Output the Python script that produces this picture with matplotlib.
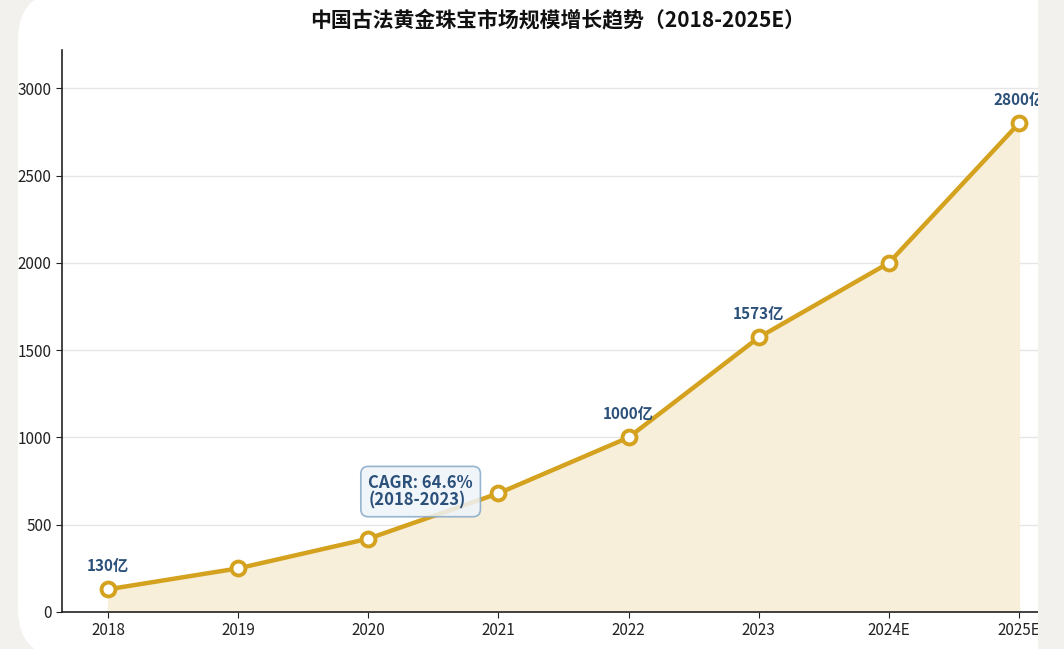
import matplotlib.pyplot as plt
from matplotlib.patches import FancyBboxPatch

years = ['2018', '2019', '2020', '2021', '2022', '2023', '2024E', '2025E']
market_size = [130, 250, 420, 680, 1000, 1573, 2000, 2800]
labeled_years = ['2018', '2022', '2023', '2025E']
y_ticks = [0, 500, 1000, 1500, 2000, 2500, 3000]

title = '中国古法黄金珠宝市场规模增长趋势（2018-2025E）'
cagr_text = 'CAGR: 64.6%\n(2018-2023)'

gold = '#d4a21e'
navy = '#2b5079'
bg_gray = '#f3f1ee'

plt.rcParams['font.family'] = ['Noto Sans CJK SC', 'DejaVu Sans']

W, H = 1064, 649
fig = plt.figure(figsize=(W / 100, H / 100), dpi=100)
fig.patch.set_facecolor(bg_gray)

# white card behind the chart
card = FancyBboxPatch((18 / W, -8 / H), (1060 - 18) / W, (H + 16) / H,
                      boxstyle='round,pad=0,rounding_size=0.045',
                      transform=fig.transFigure, facecolor='white',
                      edgecolor='none', zorder=-5, mutation_aspect=W / H)
fig.patches.append(card)

ax = fig.add_axes([62 / W, (H - 612) / H, (1055 - 62) / W, (612 - 50) / H])
ax.set_facecolor('none')
ax.set_zorder(2)

x = list(range(len(years)))
ax.fill_between(x, market_size, 0, color='#f8efdb', zorder=1)
ax.plot(x, market_size, color=gold, lw=3.2, marker='o', markersize=10,
        markerfacecolor='white', markeredgecolor=gold, markeredgewidth=2.8,
        zorder=3)

for i, yr in enumerate(years):
    if yr in labeled_years:
        ax.annotate(f'{market_size[i]}亿', (i, market_size[i]),
                    xytext=(0, 17), textcoords='offset points',
                    ha='center', va='center', fontsize=11,
                    fontweight='bold', color=navy, zorder=5)

ax.text(2.0, 690, cagr_text, ha='left', va='center', fontsize=12,
        fontweight='bold', color=navy, linespacing=0.95, zorder=4,
        bbox=dict(boxstyle='round,pad=0.45', facecolor='#eef4fa',
                  edgecolor='#86a8c8', alpha=0.85, lw=1.2))

ax.set_xlim(-0.354, 7.277)
ax.set_ylim(0, 3220)
ax.set_xticks(x)
ax.set_xticklabels(years)
ax.set_yticks(y_ticks)
ax.tick_params(labelsize=11, colors='#222222', length=4)
ax.grid(axis='y', color='#e6e6e6', lw=1, zorder=0)
ax.set_axisbelow(True)
for s in ['top', 'right']:
    ax.spines[s].set_visible(False)
for s in ['left', 'bottom']:
    ax.spines[s].set_color('#222222')
    ax.spines[s].set_linewidth(1.2)

fig.text(558 / W, 1 - 20 / H, title, ha='center', va='center',
         fontsize=15, fontweight='bold', color='#111111')

# right edge of the card clips the chart
edge = FancyBboxPatch((1038 / W, -0.1), 0.2, 1.2, boxstyle='square,pad=0',
                      transform=fig.transFigure, facecolor=bg_gray,
                      edgecolor='none', zorder=20)
fig.patches.append(edge)

fig.savefig('out.png', dpi=100, facecolor=fig.get_facecolor())
